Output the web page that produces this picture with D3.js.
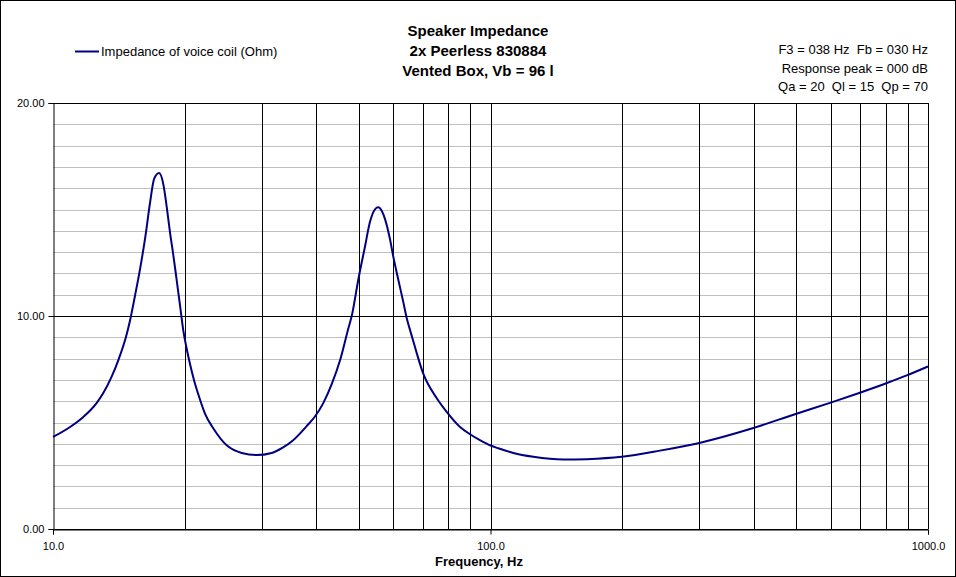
<!DOCTYPE html>
<html><head><meta charset="utf-8">
<script src="https://cdn.jsdelivr.net/npm/d3@7"></script>
<style>
html,body{margin:0;padding:0;background:#fff;}
svg{display:block;font-family:Arial,"Liberation Sans",sans-serif;}
</style></head>
<body><svg id="c" width="956" height="577"></svg>
<script>
const titleLines = ["Speaker Impedance", "2x Peerless 830884", "Vented Box, Vb = 96 l"];
const infoLines = ["F3 = 038 Hz  Fb = 030 Hz", "Response peak = 000 dB", "Qa = 20  Ql = 15  Qp = 70"];
const seriesName = "Impedance of voice coil (Ohm)";
const xAxisTitle = "Frequency, Hz";
const xTickValues = [10, 100, 1000];
const xTickLabels = ["10.0", "100.0", "1000.0"];
const xGridValues = [20,30,40,50,60,70,80,90,100,200,300,400,500,600,700,800,900,1000];
const yTickValues = [0, 10, 20];
const yTickLabels = ["0.00", "10.00", "20.00"];
const yMinorValues = [1,2,3,4,5,6,7,8,9,11,12,13,14,15,16,17,18,19];
const freqHz = [10, 10.94, 11.73, 12.59, 13.03, 13.6, 14.1, 14.68, 15.0, 15.4, 15.81, 16.23, 16.67, 17.02, 17.48, 17.87, 18.2, 18.51, 18.84, 19.17, 19.5, 19.86, 20.21, 20.56, 21.0, 21.5, 22.25, 23.26, 24.95, 27.0, 29.2, 31.6, 33.5, 35.4, 38.0, 39.7, 41.5, 43.4, 45.3, 47.3, 48.2, 49.9, 51.7, 53.0, 54.5, 55.4, 56.4, 57.4, 58.9, 60.0, 61.5, 63.2, 64.4, 65.7, 67.2, 70.2, 75.3, 79.4, 85.2, 89.8, 94.6, 99.7, 104.2, 112.8, 125.3, 146.7, 165.9, 199.5, 244, 298.5, 398.8, 496.6, 597, 699, 797.6, 894, 1000];
const impedance = [4.32, 4.79, 5.26, 5.92, 6.38, 7.13, 7.92, 9.01, 9.79, 10.96, 12.2, 13.62, 15.33, 16.43, 16.71, 16.19, 15.1, 13.93, 12.85, 11.7, 10.55, 9.3, 8.46, 7.76, 7.0, 6.3, 5.42, 4.72, 3.93, 3.57, 3.47, 3.57, 3.82, 4.17, 4.83, 5.28, 5.92, 6.82, 7.92, 9.40, 10.02, 11.74, 13.30, 14.4, 15.02, 15.10, 14.94, 14.55, 13.62, 12.75, 11.74, 10.65, 9.87, 9.24, 8.54, 7.29, 6.15, 5.50, 4.79, 4.45, 4.17, 3.93, 3.79, 3.57, 3.39, 3.26, 3.28, 3.39, 3.68, 4.03, 4.74, 5.39, 5.92, 6.40, 6.82, 7.21, 7.63];

const svg = d3.select("#c");
const W = 956, H = 577;
const L = 53, R = 928, T = 103, B = 529;
const x = d3.scaleLog().domain([10, 1000]).range([L, R]);
const y = d3.scaleLinear().domain([0, 20]).range([B, T]);

svg.append("rect").attr("x", 0.5).attr("y", 0.5).attr("width", W - 1).attr("height", H - 1)
  .attr("fill", "#fff").attr("stroke", "#000").attr("stroke-width", 1);

// minor horizontal grid
svg.append("g").selectAll("line").data(yMinorValues).join("line")
  .attr("x1", L).attr("x2", R).attr("y1", d => Math.round(y(d)) + 0.5).attr("y2", d => Math.round(y(d)) + 0.5)
  .attr("stroke", "#c0c0c0").attr("stroke-width", 1);
// major horizontal grid
svg.append("g").selectAll("line").data(yTickValues).join("line")
  .attr("x1", L).attr("x2", R).attr("y1", d => Math.round(y(d)) + 0.5).attr("y2", d => Math.round(y(d)) + 0.5)
  .attr("stroke", "#000").attr("stroke-width", 1);
// vertical grid
svg.append("g").selectAll("line").data(xGridValues).join("line")
  .attr("x1", d => Math.round(x(d)) + 0.5).attr("x2", d => Math.round(x(d)) + 0.5).attr("y1", T).attr("y2", B)
  .attr("stroke", "#000").attr("stroke-width", 1);

// axes
const yAxis = d3.axisLeft(y).tickValues(yTickValues).tickFormat((d, i) => yTickLabels[i]).tickSize(5).tickPadding(4);
const ga = svg.append("g").attr("transform", `translate(${L + 0.5},0)`).call(yAxis);
ga.select(".domain").attr("stroke", "#000");
ga.selectAll("text").attr("font-size", 11).attr("font-family", "Arial,'Liberation Sans',sans-serif").attr("fill", "#000");

const xAxis = d3.axisBottom(x).tickValues(xTickValues).tickFormat((d, i) => xTickLabels[i]).tickSize(5).tickPadding(8);
const gx = svg.append("g").attr("transform", `translate(0,${B + 0.5})`).call(xAxis);
gx.select(".domain").attr("stroke", "#000");
gx.selectAll("text").attr("font-size", 11).attr("font-family", "Arial,'Liberation Sans',sans-serif").attr("fill", "#000");

// curve
const line = d3.line().x((d, i) => x(freqHz[i])).y(d => y(d)).curve(d3.curveMonotoneX);
svg.append("path").datum(impedance).attr("d", line)
  .attr("fill", "none").attr("stroke", "#000080").attr("stroke-width", 2);

// title
svg.append("g").selectAll("text").data(titleLines).join("text")
  .attr("x", 478).attr("y", (d, i) => 36 + i * 20).attr("text-anchor", "middle")
  .attr("font-size", 15).attr("font-weight", "bold").text(d => d);

// info
svg.append("g").selectAll("text").data(infoLines).join("text")
  .attr("x", 928).attr("y", (d, i) => 54 + i * 18.7).attr("text-anchor", "end")
  .attr("font-size", 13).style("white-space", "pre").text(d => d);

// legend
svg.append("line").attr("x1", 75).attr("x2", 99).attr("y1", 51.5).attr("y2", 51.5)
  .attr("stroke", "#000080").attr("stroke-width", 2);
svg.append("text").attr("x", 101).attr("y", 56).attr("font-size", 13).text(seriesName);

// x axis title
svg.append("text").attr("x", 479).attr("y", 566).attr("text-anchor", "middle")
  .attr("font-size", 13).attr("font-weight", "bold").text(xAxisTitle);
</script></body></html>
